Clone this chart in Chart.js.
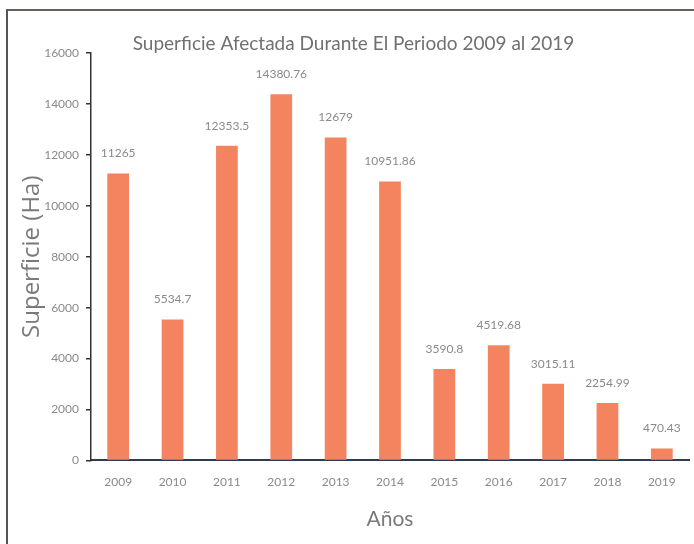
<!DOCTYPE html>
<html>
<head>
<meta charset="utf-8">
<script src="https://cdn.jsdelivr.net/npm/chart.js@4.4.0/dist/chart.umd.min.js"></script>
<style>
    html, body { margin: 0; padding: 0; background: #fff; overflow: hidden; }
    .frame {
        position: absolute; left: 6px; top: 9px; width: 720px; height: 560px;
        border-left: 2px solid #555; border-top: 2px solid #6a5d5d;
    }
    #wrap { position: absolute; left: 0; top: 0; width: 694px; height: 544px; }
</style>
</head>
<body>
<div class="frame"></div>
<div id="wrap"><canvas id="chart" width="694" height="544"></canvas></div>
<script>
    // ===== Data =====
    const years = ['2009', '2010', '2011', '2012', '2013', '2014', '2015', '2016', '2017', '2018', '2019'];
    const superficie = [11265, 5534.7, 12353.5, 14380.76, 12679, 10951.86, 3590.8, 4519.68, 3015.11, 2254.99, 470.43];
    const valueLabels = ['11265', '5534.7', '12353.5', '14380.76', '12679', '10951.86', '3590.8', '4519.68', '3015.11', '2254.99', '470.43'];

    const textGray = '#8a8a8a';
    const fontFamily = 'Lato, "Open Sans", sans-serif';

    // draws the value above each bar
    const barValues = {
        id: 'barValues',
        afterDatasetsDraw(chart) {
            const ctx = chart.ctx;
            const meta = chart.getDatasetMeta(0);
            ctx.save();
            ctx.font = '12px ' + fontFamily;
            ctx.fillStyle = textGray;
            ctx.textAlign = 'center';
            ctx.textBaseline = 'middle';
            meta.data.forEach((bar, i) => {
                ctx.fillText(valueLabels[i], bar.x, bar.y - 20);
            });
            ctx.restore();
        }
    };

    new Chart(document.getElementById('chart').getContext('2d'), {
        type: 'bar',
        data: {
            labels: years,
            datasets: [{
                data: superficie,
                backgroundColor: '#f4845f',
                borderWidth: 0,
                barPercentage: 0.8,
                categoryPercentage: 0.5
            }]
        },
        options: {
            responsive: false,
            animation: false,
            layout: { padding: { left: 18, right: 5, top: 0, bottom: 12 } },
            plugins: {
                legend: { display: false },
                tooltip: { enabled: false },
                title: {
                    display: true,
                    text: 'Superficie Afectada Durante El Periodo 2009 al 2019',
                    color: '#707070',
                    font: { family: fontFamily, size: 19, weight: 'normal', lineHeight: 1.0 },
                    padding: { top: 34, bottom: 0 }
                }
            },
            scales: {
                x: {
                    grid: { display: true, drawOnChartArea: false, drawTicks: false },
                    border: { display: true, color: '#2f3a55', width: 2 },
                    ticks: { color: textGray, padding: 15, font: { family: fontFamily, size: 12 } },
                    title: {
                        display: true,
                        text: 'Años',
                        color: '#7a7a7a',
                        font: { family: fontFamily, size: 21 },
                        padding: { top: 2, bottom: 0 }
                    }
                },
                y: {
                    min: 0,
                    max: 16000,
                    afterFit(scale) { scale.width = 73; },
                    grid: { display: true, drawOnChartArea: false, drawTicks: true, tickLength: 5, color: '#333', lineWidth: 1.5 },
                    border: { display: true, color: '#333', width: 1.5 },
                    ticks: {
                        stepSize: 2000, color: textGray, padding: 7,
                        font: { family: fontFamily, size: 12 },
                        callback: v => String(v)
                    },
                    title: {
                        display: true,
                        text: 'Superficie (Ha)',
                        color: '#7a7a7a',
                        font: { family: '"Open Sans", sans-serif', size: 24 },
                        padding: { top: 0, bottom: 0 }
                    }
                }
            }
        },
        plugins: [barValues]
    });
</script>
</body>
</html>
